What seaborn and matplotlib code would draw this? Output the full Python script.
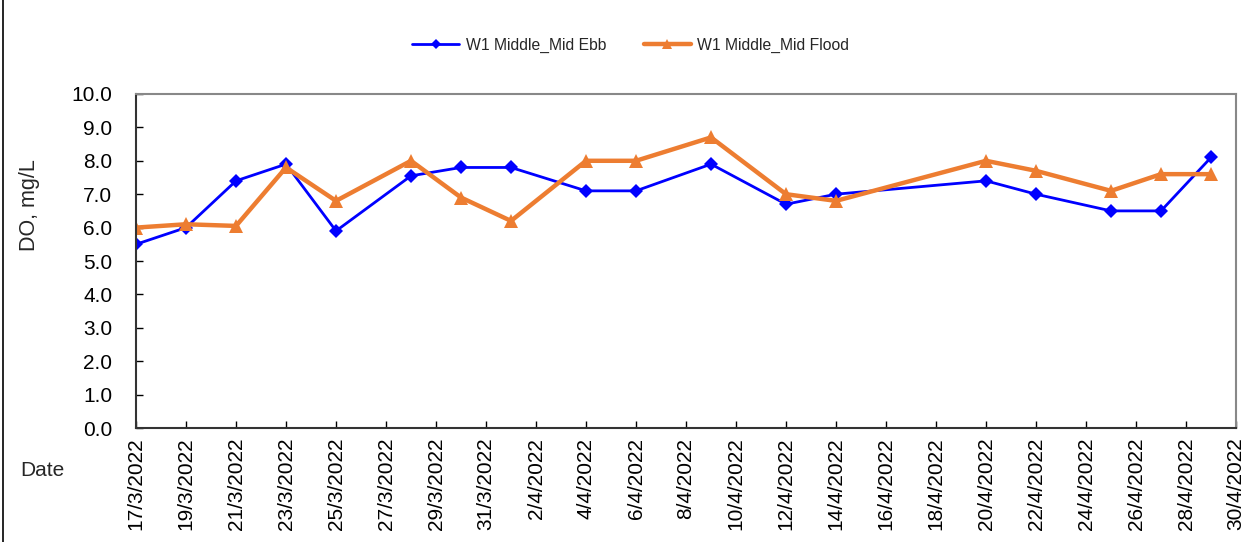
import matplotlib
matplotlib.use("Agg")
import matplotlib.pyplot as plt
from matplotlib.lines import Line2D
import pandas as pd
import seaborn as sb

# sampling dates and DO readings (mg/L)
dates = ["2022-03-17", "2022-03-19", "2022-03-21", "2022-03-23", "2022-03-25",
         "2022-03-28", "2022-03-30", "2022-04-01", "2022-04-04", "2022-04-06",
         "2022-04-09", "2022-04-12", "2022-04-14", "2022-04-20", "2022-04-22",
         "2022-04-25", "2022-04-27", "2022-04-29"]
ebb = [5.5, 6.0, 7.4, 7.9, 5.9, 7.55, 7.8, 7.8, 7.1, 7.1,
       7.9, 6.7, 7.0, 7.4, 7.0, 6.5, 6.5, 8.1]
flood = [6.0, 6.1, 6.05, 7.8, 6.8, 8.0, 6.9, 6.2, 8.0, 8.0,
         8.7, 7.0, 6.8, 8.0, 7.7, 7.1, 7.6, 7.6]
ebb_name = "W1 Middle_Mid Ebb"
flood_name = "W1 Middle_Mid Flood"

df = pd.DataFrame({"Date": pd.to_datetime(dates), "ebb": ebb, "flood": flood})

sb.set_style("white")
plt.rcParams['font.family'] = ['Liberation Sans', 'DejaVu Sans']

fig = plt.figure(figsize=(12.49, 5.42), dpi=100)
ax = fig.add_axes([0.1089, 0.2103, 0.8807, 0.6163])

sb.lineplot(data=df, x="Date", y="ebb", ax=ax, color="#0000FF", linewidth=2,
            marker="D", markersize=7, markeredgewidth=0, label=ebb_name)
sb.lineplot(data=df, x="Date", y="flood", ax=ax, color="#ED7D31", linewidth=3.2,
            marker="^", markersize=10, markeredgewidth=0, label=flood_name)

ax.set_ylim(0, 10)
ax.set_yticks([i for i in range(11)])
ax.set_yticklabels([f"{i:.1f}" for i in range(11)], fontsize=15)
ax.set_xlim(pd.Timestamp("2022-03-17"), pd.Timestamp("2022-04-30"))
ticks = pd.date_range("2022-03-17", "2022-04-30", freq="2D")
ax.set_xticks(ticks)
ax.set_xticklabels([f"{d.day}/{d.month}/{d.year}" for d in ticks], rotation=90, fontsize=15)

ax.tick_params(axis="both", direction="in", length=5, width=1, colors="black",
               bottom=True, left=True)
ax.tick_params(axis="y", pad=17)
ax.tick_params(axis="x", pad=7)
for s in ["left", "bottom"]:
    ax.spines[s].set_color("#333333")
    ax.spines[s].set_linewidth(1.5)
for s in ["top", "right"]:
    ax.spines[s].set_color("#888888")
    ax.spines[s].set_linewidth(1.5)

ax.set_xlabel("")
ax.set_ylabel("")
fig.text(0.024, 0.622, "DO, mg/L", fontsize=15.5, rotation=90, ha="center", va="center")
fig.text(0.034, 0.132, "Date", fontsize=15, ha="center", va="center")

leg = ax.legend(loc="center", bbox_to_anchor=(0.505, 0.917), bbox_transform=fig.transFigure,
                ncol=2, frameon=False, fontsize=11.3, handlelength=3.0, columnspacing=2.4,
                handletextpad=0.4, markerscale=0.7)

# outer frame edge on the left
fig.add_artist(Line2D([0.0025, 0.0025], [0, 1], transform=fig.transFigure,
                      color="black", linewidth=1.2))

fig.savefig("out.png", dpi=100)
